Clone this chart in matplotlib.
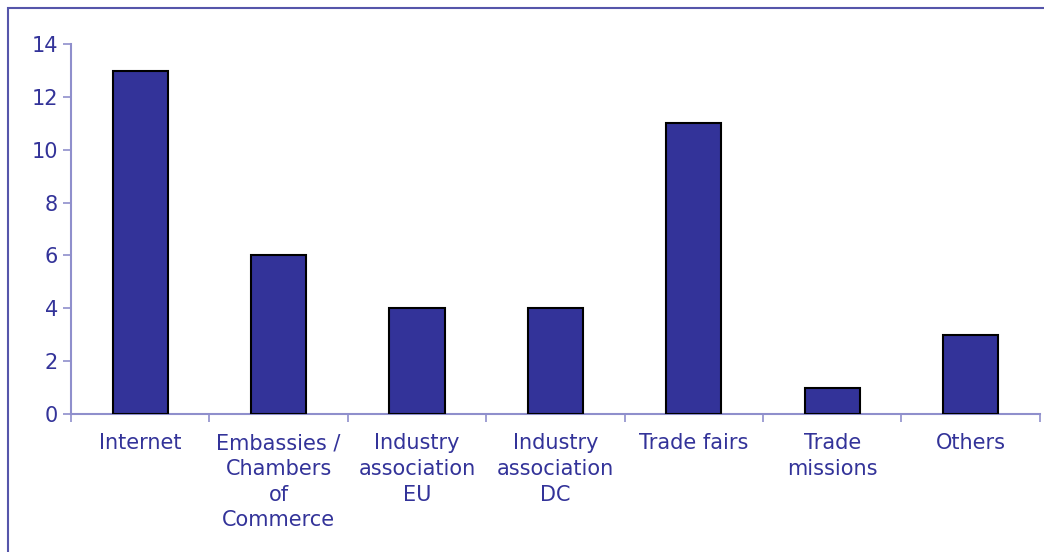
import matplotlib.pyplot as plt
from matplotlib.patches import Rectangle

# Sources of information (count of responses)
categories = ["Internet", "Embassies /\nChambers\nof\nCommerce", "Industry\nassociation\nEU",
              "Industry\nassociation\nDC", "Trade fairs", "Trade\nmissions", "Others"]
counts = [13, 6, 4, 4, 11, 1, 3]
yticks = [0, 2, 4, 6, 8, 10, 12, 14]

bar_color = "#333399"
axis_color = "#8f8fcc"
text_color = "#333399"

fig = plt.figure(figsize=(10.44, 5.52), dpi=100)
ax = fig.add_axes([0.068, 0.25, 0.928, 0.67])

x = range(len(categories))
ax.bar(x, counts, width=0.40, color=bar_color, edgecolor="black", linewidth=1.5, zorder=3)

ax.set_xlim(-0.5, len(categories) - 0.5)
ax.set_ylim(0, 14)
ax.set_yticks(yticks)
ax.set_xticks(x)
ax.set_xticklabels(categories, fontsize=15, color=text_color, linespacing=1.35)
ax.tick_params(axis="y", labelsize=15, labelcolor=text_color, color=axis_color, length=6, width=1.2)
ax.tick_params(axis="x", length=0, pad=14)
# ticks between categories on x axis
ax.set_xticks([i - 0.5 for i in range(len(categories) + 1)], minor=True)
ax.tick_params(axis="x", which="minor", length=6, color=axis_color, width=1.2)

for s in ["top", "right"]:
    ax.spines[s].set_visible(False)
for s in ["left", "bottom"]:
    ax.spines[s].set_color(axis_color)
    ax.spines[s].set_linewidth(1.5)

# outer frame
fig.patches.append(Rectangle((8 / 1044, -0.1), 1.2, 1.1 - 8 / 552, transform=fig.transFigure,
                             fill=False, edgecolor="#5555aa", linewidth=1.5))

fig.savefig("out.png", dpi=100)
